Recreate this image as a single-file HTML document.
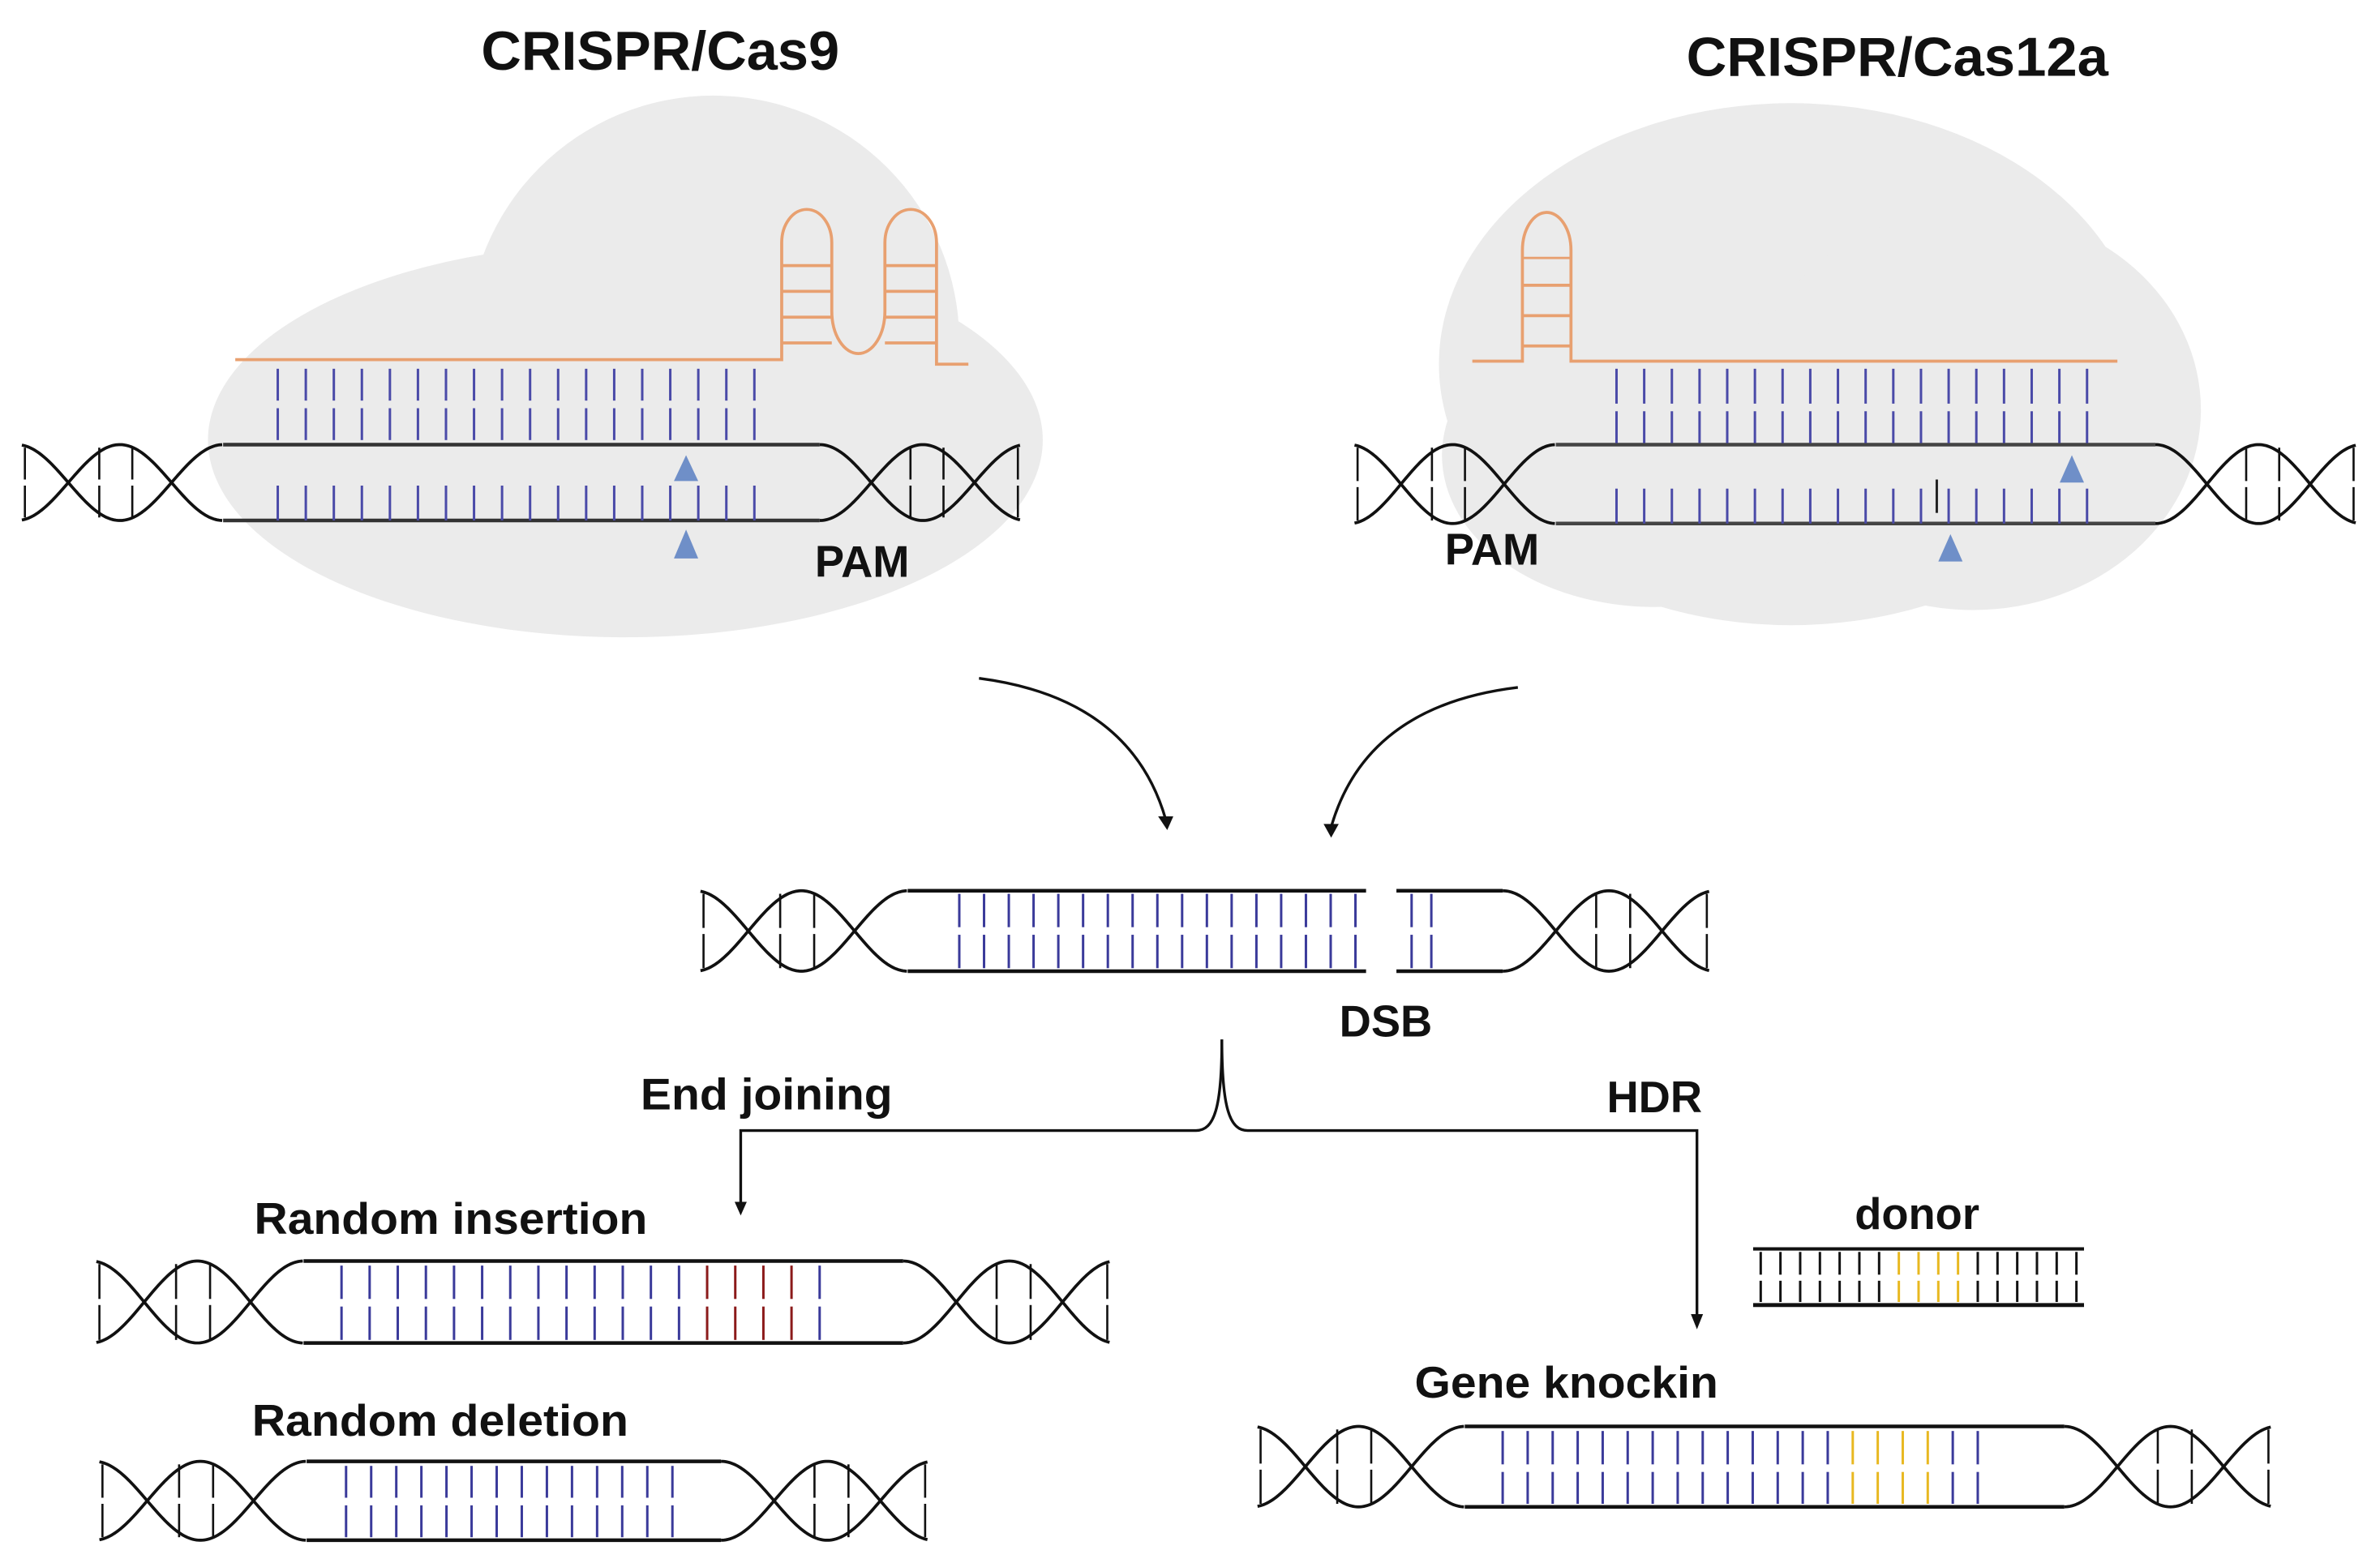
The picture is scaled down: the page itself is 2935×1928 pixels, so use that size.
<!DOCTYPE html>
<html><head><meta charset="utf-8"><style>
html,body{margin:0;padding:0;background:#fff;}
svg{display:block;}
text{font-family:"Liberation Sans",Arial,sans-serif;font-weight:bold;fill:#111;}
</style></head><body>
<svg id="s" width="2935" height="1928" viewBox="0 0 1568 1030" preserveAspectRatio="none" xmlns="http://www.w3.org/2000/svg">
<g fill="#ebebeb">
<ellipse cx="412" cy="290" rx="275" ry="130"/>
<circle cx="470" cy="225" r="162"/>
<ellipse cx="1180" cy="240" rx="232" ry="172"/>
<ellipse cx="1300" cy="270" rx="150" ry="132"/>
<ellipse cx="1090" cy="300" rx="140" ry="100"/>
</g>
<g id="g" fill="none" stroke-linecap="butt"></g>
<text x="435" y="46" font-size="36" text-anchor="middle" textLength="236" lengthAdjust="spacingAndGlyphs">CRISPR/Cas9</text>
<text x="1250" y="50" font-size="36" text-anchor="middle" textLength="278" lengthAdjust="spacingAndGlyphs">CRISPR/Cas12a</text>
<text x="568" y="380" font-size="29" text-anchor="middle" fill="#333">PAM</text>
<text x="983" y="372" font-size="29" text-anchor="middle">PAM</text>
<text x="913" y="683" font-size="29" text-anchor="middle">DSB</text>
<text x="505" y="731" font-size="29" text-anchor="middle" textLength="166" lengthAdjust="spacingAndGlyphs">End joining</text>
<text x="1090" y="733" font-size="29" text-anchor="middle">HDR</text>
<text x="297" y="813" font-size="29" text-anchor="middle" textLength="259" lengthAdjust="spacingAndGlyphs">Random insertion</text>
<text x="290" y="946" font-size="29" text-anchor="middle" textLength="248" lengthAdjust="spacingAndGlyphs">Random deletion</text>
<text x="1263" y="810" font-size="29" text-anchor="middle">donor</text>
<text x="1032" y="921" font-size="29" text-anchor="middle" textLength="200" lengthAdjust="spacingAndGlyphs">Gene knockin</text>
</svg>
<script>
var g=document.getElementById('g'),NS='http://www.w3.org/2000/svg';
function el(t,a){var e=document.createElementNS(NS,t);for(var k in a)e.setAttribute(k,a[k]);g.appendChild(e);return e;}
function line(x1,y1,x2,y2,c,w){return el('line',{x1:x1,y1:y1,x2:x2,y2:y2,stroke:c,'stroke-width':w});}
function path(d,c,w){return el('path',{d:d,stroke:c,'stroke-width':w,fill:'none'});}
function sin(x0,x1,f){var d='';for(var x=x0;x<=x1+0.01;x+=1){d+=(d?'L':'M')+x.toFixed(1)+','+f(x).toFixed(2);}return d;}
function ticks(xs,top,bot){xs.forEach(function(x){var m=(top+bot)/2;line(x,top+2,x,m-2,'#111',1.4);line(x,m+2,x,bot-2,'#111',1.4);});}
function helixL(xs,top,bot,P){var mid=(top+bot)/2,a=(bot-top)/2,c2=xs-P/2,c1=c2-P,x0=c1-0.45*P;
 path(sin(x0,xs,function(x){return mid-a*Math.sin(Math.PI*(x-c2)/P);}),'#111',2);
 path(sin(x0,xs,function(x){return mid+a*Math.sin(Math.PI*(x-c2)/P);}),'#111',2);
 ticks([x0+2,c1+P*0.3,c1+P*0.62],top,bot);}
function helixR(xe,top,bot,P){var mid=(top+bot)/2,a=(bot-top)/2,c1=xe+P/2,c2=c1+P,x1=c2+0.45*P;
 path(sin(xe,x1,function(x){return mid-a*Math.cos(Math.PI*(x-xe)/P);}),'#111',2);
 path(sin(xe,x1,function(x){return mid+a*Math.cos(Math.PI*(x-xe)/P);}),'#111',2);
 ticks([c1+P*0.38,c1+P*0.7,x1-2],top,bot);}
function rungs(x0,x1,n,segs,colf){for(var i=0;i<n;i++){var x=x0+(x1-x0)*i/(n-1);var c=colf?colf(i):'#4a4aa8';segs.forEach(function(s){line(x,s[0],x,s[1],c,1.6);});}}
function dna(xs,xe,top,bot,P,sc){helixL(xs,top,bot,P);helixR(xe,top,bot,P);line(xs,top,xe,top,sc||'#111',2.4);line(xs,bot,xe,bot,sc||'#111',2.4);}

dna(147,540,293,343,68,'#333');
var og='#e8a070';
path('M155,237 H515 V160 A16.5,22 0 0 1 548,160 V205 A17.5,28 0 0 0 583,205 V160 A17,22 0 0 1 617,160 V240 H638',og,2);
[175,192,209,226].forEach(function(y){line(515,y,548,y,og,2);line(583,y,617,y,og,2);});
rungs(183,497,18,[[243,264],[269,290]]);
rungs(183,497,18,[[320,343]]);
el('polygon',{points:'452,300 444,317 460,317',fill:'#6f8fc8'});
el('polygon',{points:'452,349 444,368 460,368',fill:'#6f8fc8'});

dna(1025,1420,293,345,68,'#444');
path('M970,238 H1003 V165 A16,25 0 0 1 1035,165 V238 H1395',og,2);
[188,208,228].forEach(function(y){line(1003,y,1035,y,og,2);});
line(1003,170,1035,170,og,1.5);
rungs(1065,1375,18,[[243,266],[271,292]]);
rungs(1065,1375,18,[[322,345]]);
line(1276,316,1276,338,'#222',1.6);
el('polygon',{points:'1365,300 1357,318 1373,318',fill:'#6f8fc8'});
el('polygon',{points:'1285,352 1277,370 1293,370',fill:'#6f8fc8'});

path('M645,447 Q745,460 768,540','#111',1.8);
el('polygon',{points:'763,538 773,538 769,547',fill:'#111'});
path('M1000,453 Q900,465 877,545','#111',1.8);
el('polygon',{points:'872,543 882,543 877,552',fill:'#111'});

helixL(598,587,640,70);helixR(990,587,640,70);
line(598,587,900,587,'#111',2.4);line(598,640,900,640,'#111',2.4);
line(920,587,990,587,'#111',2.4);line(920,640,990,640,'#111',2.4);
rungs(632,893,17,[[589,611],[616,638]],function(){return '#3a3a9a';});
rungs(930,943,2,[[589,611],[616,638]],function(){return '#3a3a9a';});

path('M805,685 C805,730 800,745 788,745 H488 V795','#111',1.8);
path('M805,685 C805,730 810,745 822,745 H1118 V870','#111',1.8);
el('polygon',{points:'484,792 492,792 488,801',fill:'#111'});
el('polygon',{points:'1114,866 1122,866 1118,876',fill:'#111'});

dna(200,595,831,885,70);
rungs(225,540,18,[[834,856],[861,883]],function(i){return (i>=13&&i<=16)?'#8b1a1a':'#3a3a9a';});
dna(202,475,963,1015,70);
rungs(228,443,14,[[966,987],[992,1013]],function(){return '#3a3a9a';});
line(1155,823,1373,823,'#111',2.2);line(1155,860,1373,860,'#111',2.6);
rungs(1160,1368,17,[[825,840],[844,858]],function(i){return (i>=7&&i<=10)?'#e8b820':'#111';});
dna(965,1360,940,993,70);
rungs(990,1303,20,[[943,965],[970,991]],function(i){return (i>=14&&i<=17)?'#e8b820':'#3a3a9a';});
</script>
</body></html>
